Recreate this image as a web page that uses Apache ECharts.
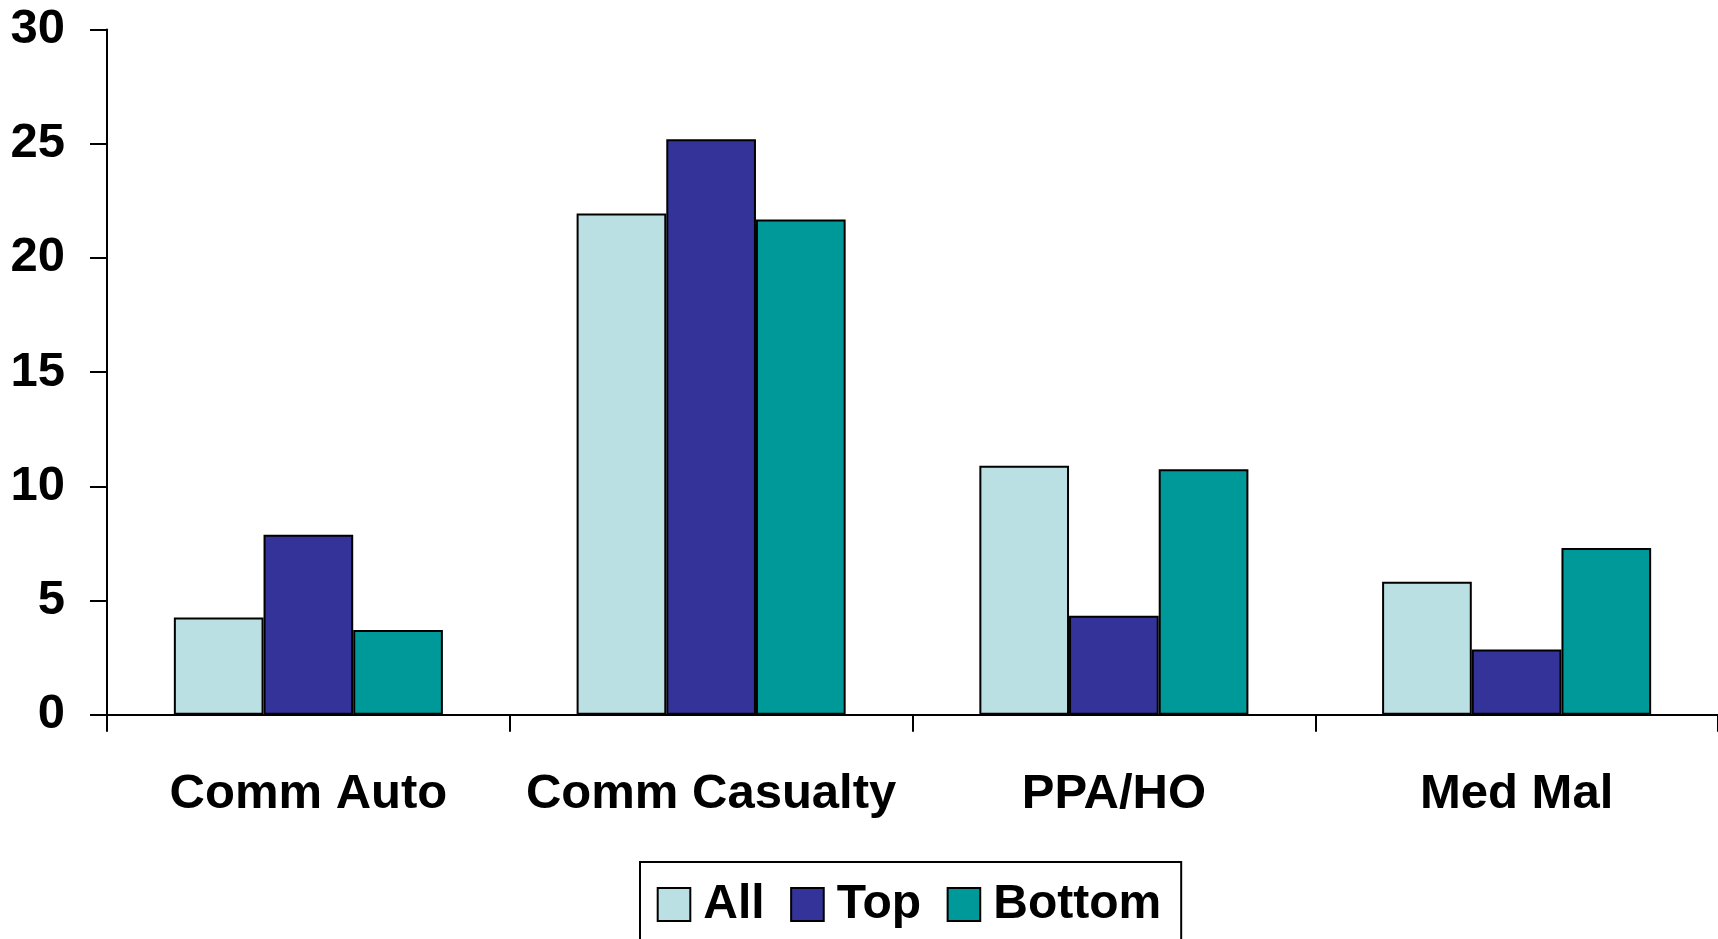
<!DOCTYPE html>
<html>
<head>
<meta charset="utf-8">
<title>Comm lines: All / Top / Bottom</title>
<script src="https://cdn.jsdelivr.net/npm/echarts@6/dist/echarts.min.js"></script>
<style>
  html, body { margin: 0; padding: 0; background: #ffffff; }
  #chart { width: 1718px; height: 939px; }
</style>
</head>
<body>
<div id="chart"></div>
<script>
// Lines of business along the x axis
const categories = ['Comm Auto', 'Comm Casualty', 'PPA/HO', 'Med Mal'];

// Values per group
const allValues = [4.26, 21.94, 10.9, 5.82];
const topValues = [7.88, 25.19, 4.33, 2.86];
const bottomValues = [3.71, 21.68, 10.75, 7.3];

// Y axis tick labels
const yTicks = [0, 5, 10, 15, 20, 25, 30];

const FONT = '"Liberation Sans", Arial, Helvetica, sans-serif';
const axisLineStyle = { color: '#000000', width: 2 };
const barBorder = { borderColor: '#000000', borderWidth: 2 };

function barSeries(name, data, color) {
  return {
    name: name,
    type: 'bar',
    data: data,
    barGap: '0%',
    barCategoryGap: '33.2%',
    itemStyle: Object.assign({ color: color }, barBorder),
    emphasis: { disabled: true }
  };
}

const chart = echarts.init(document.getElementById('chart'), null, { renderer: 'canvas' });

chart.setOption({
  animation: false,
  backgroundColor: '#ffffff',
  textStyle: { fontFamily: FONT },
  grid: { left: 107, right: 0, top: 29.5, bottom: 224.3, containLabel: false },
  legend: {
    data: ['All', 'Top', 'Bottom'],
    left: 640,
    top: 862,
    orient: 'horizontal',
    padding: [18.5, 20, 30, 16.7],
    itemWidth: 32.6,
    itemHeight: 33,
    itemGap: 25.5,
    icon: 'rect',
    backgroundColor: '#ffffff',
    borderColor: '#000000',
    borderWidth: 2,
    borderRadius: 0,
    itemStyle: { borderColor: '#000000', borderWidth: 2 },
    textStyle: {
      fontFamily: FONT,
      fontWeight: 'bold',
      fontSize: 48,
      lineHeight: 48,
      color: '#000000',
      padding: [0, 0, 0, 8]
    }
  },
  xAxis: {
    type: 'category',
    data: categories,
    boundaryGap: true,
    axisLine: { show: true, lineStyle: axisLineStyle },
    axisTick: { show: true, length: 17, inside: false, alignWithLabel: false, lineStyle: axisLineStyle },
    axisLabel: {
      margin: 55,
      fontFamily: FONT,
      fontWeight: 'bold',
      fontSize: 49,
      color: '#000000',
      interval: 0
    },
    splitLine: { show: false }
  },
  yAxis: {
    type: 'value',
    min: yTicks[0],
    max: yTicks[yTicks.length - 1],
    interval: 5,
    axisLine: { show: true, lineStyle: axisLineStyle },
    axisTick: { show: true, length: 17, inside: false, lineStyle: axisLineStyle },
    axisLabel: {
      margin: 42,
      fontFamily: FONT,
      fontWeight: 'bold',
      fontSize: 49,
      color: '#000000'
    },
    splitLine: { show: false }
  },
  series: [
    barSeries('All', allValues, '#BBE0E3'),
    barSeries('Top', topValues, '#333399'),
    barSeries('Bottom', bottomValues, '#009999')
  ]
});
</script>
</body>
</html>
